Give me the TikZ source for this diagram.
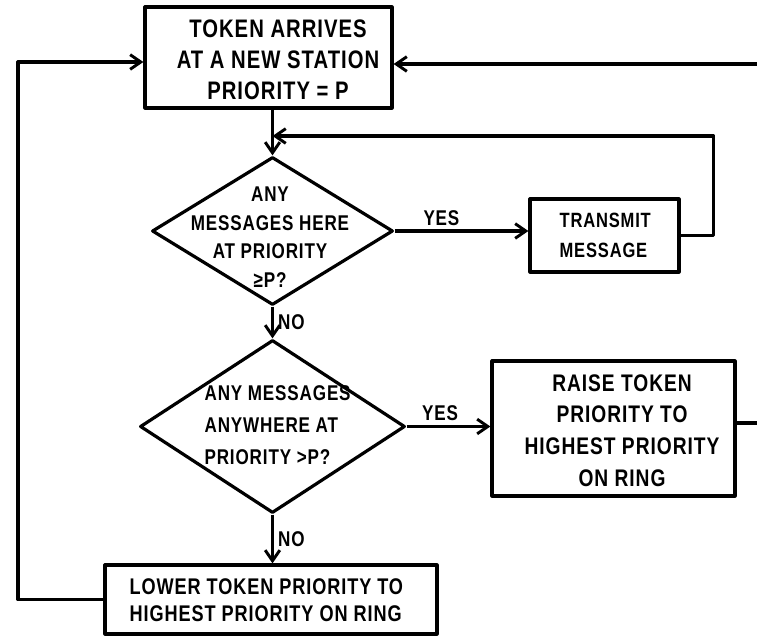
\documentclass[tikz,border=0pt]{standalone}
\usepackage{fontspec}
\setmainfont{Liberation Sans}[FakeStretch=0.8, LetterSpace=4]
\usetikzlibrary{shapes.geometric,arrows.meta}
\begin{document}
\begin{tikzpicture}[x=0.75pt,y=-0.75pt,
  line width=2.4pt, line join=round,
  shapebox/.style={draw, rectangle, inner sep=0pt},
  decision/.style={draw, diamond, inner sep=0pt},
  txt/.style={inner sep=0pt, font=\fontsize{18}{23}\selectfont\bfseries},
  smalltxt/.style={inner sep=0pt, font=\fontsize{15.5}{22.5}\selectfont\bfseries},
  lbl/.style={inner sep=3pt, font=\fontsize{16}{18}\selectfont\bfseries},
  arr/.style={-{Straight Barb[length=8pt,width=11pt,line width=2.2pt]}}
]
\useasboundingbox[fill=white] (0,0) rectangle (757,638);

% boxes and decisions
\node[shapebox, minimum width=185.25pt, minimum height=75.75pt] (top) at (268.5,57.5) {};
\node[decision, minimum width=180.75pt, minimum height=111pt] (d1) at (272.5,231) {};
\node[shapebox, minimum width=111.75pt, minimum height=54.75pt] (trans) at (604.5,235.5) {};
\node[decision, minimum width=198.75pt, minimum height=129.75pt] (d2) at (272.5,426.5) {};
\node[shapebox, minimum width=182.25pt, minimum height=101.25pt] (raise) at (613.5,428.5) {};
\node[shapebox, minimum width=249pt, minimum height=51.75pt] (low) at (271,599.5) {};

% texts
\node[txt, align=center, font=\fontsize{19}{23.25}\selectfont\bfseries] (ttop) at (278,60)
  {TOKEN ARRIVES\\AT A NEW STATION\\PRIORITY = P};
\node[txt, align=center, font=\fontsize{16}{21.5}\selectfont\bfseries] (td1) at (270,237)
  {ANY\\MESSAGES HERE\\AT PRIORITY\\≥P?};
\node[smalltxt, align=left, anchor=west] (ttrans) at (558,235)
  {TRANSMIT\\MESSAGE};
\node[txt, align=left, anchor=west, font=\fontsize{16}{24}\selectfont\bfseries] (td2) at (203,425)
  {ANY MESSAGES\\ANYWHERE AT\\PRIORITY >P?};
\node[txt, align=center, font=\fontsize{18}{23.8}\selectfont\bfseries] (traise) at (622,430.5)
  {RAISE TOKEN\\PRIORITY TO\\HIGHEST PRIORITY\\ON RING};
\node[txt, align=left, anchor=west, font=\fontsize{17}{20.25}\selectfont\bfseries] (tlow) at (128,600.5)
  {LOWER TOKEN PRIORITY TO\\HIGHEST PRIORITY ON RING};

% free ends and bends
\coordinate (inR) at (757,64);
\coordinate (outR) at (757,423);
\coordinate (fbj) at (272.5,136);
\coordinate (lc) at (18,62);

% connectors
\draw[arr] (top.south -| d1.north) -- (d1.north);
\draw[arr] (d1.east) -- (trans.west |- d1.east) node[lbl, pos=0.35, above] (yes1) {YES};
\draw[arr] (trans.east) -- ++(33,0) |- (fbj);
\draw[arr] (d1.south) -- (d2.north) node[lbl, midway, right] (no1) {NO};
\draw[arr] (d2.east) -- (raise.west |- d2.east) node[lbl, pos=0.4, above] (yes2) {YES};
\draw (raise.east |- outR) -- (outR);
\draw[arr] (inR) -- (top.east |- inR);
\draw[arr] (d2.south) -- (low.north -| d2.south) node[lbl, midway, right] (no2) {NO};
\draw[arr] (low.west) -| (lc) -- (top.west |- lc);
\end{tikzpicture}
\end{document}
